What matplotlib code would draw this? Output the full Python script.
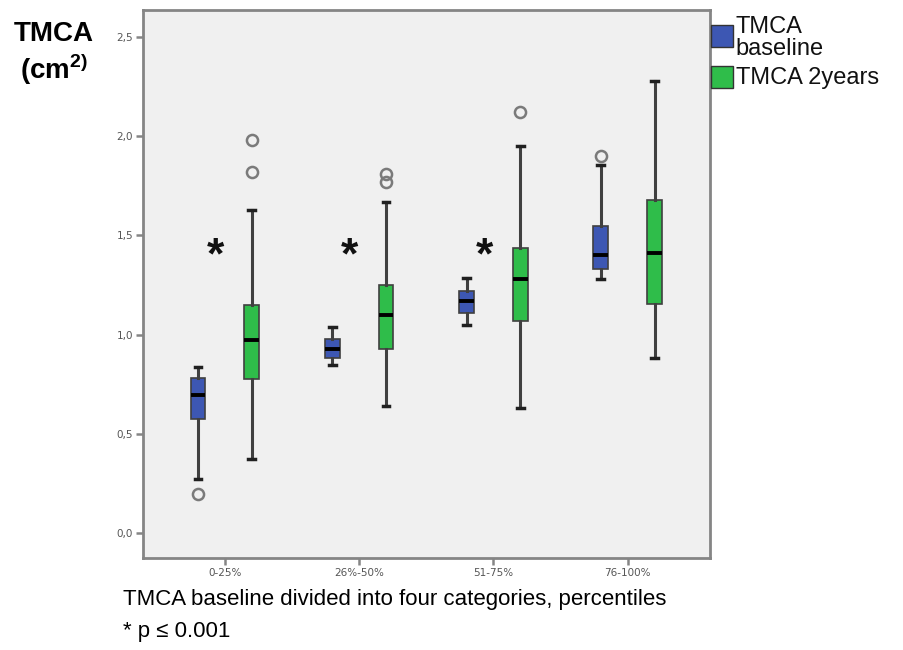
import numpy as np
import matplotlib.pyplot as plt
from matplotlib.patches import Rectangle

plt.rcParams["mathtext.fontset"] = "custom"
plt.rcParams["mathtext.rm"] = "Liberation Sans"
plt.rcParams["mathtext.bf"] = "Liberation Sans:bold"

# ---------------- Data ----------------
categories = ["0-25%", "26%-50%", "51-75%", "76-100%"]

# TMCA baseline
base_low = [0.27, 0.845, 1.047, 1.28]
base_q1 = [0.574, 0.88, 1.107, 1.33]
base_med = [0.695, 0.93, 1.17, 1.40]
base_q3 = [0.78, 0.98, 1.22, 1.55]
base_high = [0.837, 1.037, 1.283, 1.857]
base_fliers = [[0.196], [], [], [1.90]]

# TMCA 2 years
y2_low = [0.372, 0.64, 0.63, 0.88]
y2_q1 = [0.775, 0.93, 1.07, 1.153]
y2_med = [0.972, 1.10, 1.28, 1.41]
y2_q3 = [1.148, 1.249, 1.435, 1.677]
y2_high = [1.626, 1.667, 1.95, 2.276]
y2_fliers = [[1.82, 1.98], [1.77, 1.81], [2.12], []]

significant = [True, True, True, False]
star_y = 1.46

yticks = [0.0, 0.5, 1.0, 1.5, 2.0, 2.5]
ytick_labels = ["0,0", "0,5", "1,0", "1,5", "2,0", "2,5"]

blue = "#3d57b3"
green = "#2fbd4a"
frame_grey = "#858585"


def make_stats(low, q1, med, q3, high, fliers):
    stats = []
    for i in range(len(low)):
        stats.append({"whislo": low[i], "q1": q1[i], "med": med[i],
                      "q3": q3[i], "whishi": high[i], "fliers": fliers[i]})
    return stats


fig = plt.figure(figsize=(9.04, 6.5), dpi=100)
ax = fig.add_axes([0.158, 0.1415, 0.627, 0.843])
ax.set_facecolor("#f0f0f0")

x = np.arange(len(categories))
groups = [
    (make_stats(base_low, base_q1, base_med, base_q3, base_high, base_fliers), -0.2, blue),
    (make_stats(y2_low, y2_q1, y2_med, y2_q3, y2_high, y2_fliers), 0.2, green),
]
for stats, offset, color in groups:
    ax.bxp(stats, positions=x + offset, widths=0.11, capwidths=0.05,
           patch_artist=True, manage_ticks=False,
           boxprops=dict(facecolor=color, edgecolor="#404040", linewidth=1.2),
           medianprops=dict(color="black", linewidth=2.8),
           whiskerprops=dict(color="#404040", linewidth=2.2),
           capprops=dict(color="#202020", linewidth=2.5),
           flierprops=dict(marker="o", markerfacecolor="none",
                           markeredgecolor="#7a7a7a", markersize=8,
                           markeredgewidth=1.8))

# asterisks, nudged down so the glyph centre sits at star_y
for i, sig in enumerate(significant):
    if sig:
        ax.annotate("*", (x[i] - 0.07, star_y), xytext=(0, -10),
                    textcoords="offset points", fontsize=32, fontweight="bold",
                    ha="center", va="center", family="Liberation Sans",
                    color="#111111")

ax.set_xlim(-0.61, 3.61)
ax.set_ylim(-0.126, 2.636)
ax.set_xticks(x)
ax.set_xticklabels(categories, fontsize=7.5, color="#555555")
ax.set_yticks(yticks)
ax.set_yticklabels(ytick_labels, fontsize=7.5, color="#555555")
ax.tick_params(axis="both", direction="out", length=5, width=1.8,
               color=frame_grey, pad=2)
for sp in ax.spines.values():
    sp.set_color(frame_grey)
    sp.set_linewidth(2)

# y label in the top-left corner
fig.text(0.060, 0.948, "TMCA", fontsize=20, fontweight="bold",
         family="Liberation Sans", ha="center", va="center")
fig.text(0.060, 0.893, r"(cm$^{\mathbf{2)}}$", fontsize=20, fontweight="bold",
         family="Liberation Sans", ha="center", va="center")

# legend
fig.patches.append(Rectangle((0.787, 0.928), 0.024, 0.034, transform=fig.transFigure,
                             facecolor=blue, edgecolor="#333333", linewidth=1))
fig.patches.append(Rectangle((0.787, 0.865), 0.024, 0.034, transform=fig.transFigure,
                             facecolor=green, edgecolor="#333333", linewidth=1))
fig.text(0.814, 0.941, "TMCA\nbaseline", fontsize=17, family="Liberation Sans",
         ha="left", va="center", linespacing=1.0, color="#111111")
fig.text(0.814, 0.880, "TMCA 2years", fontsize=17, family="Liberation Sans",
         ha="left", va="center", color="#111111")

# x label and footnote
fig.text(0.136, 0.077, "TMCA baseline divided into four categories, percentiles",
         fontsize=16, family="Liberation Sans", ha="left", va="center")
fig.text(0.136, 0.028, "* p \u2264 0.001", fontsize=16,
         family="Liberation Sans", ha="left", va="center")

fig.savefig("out.png", dpi=100)
